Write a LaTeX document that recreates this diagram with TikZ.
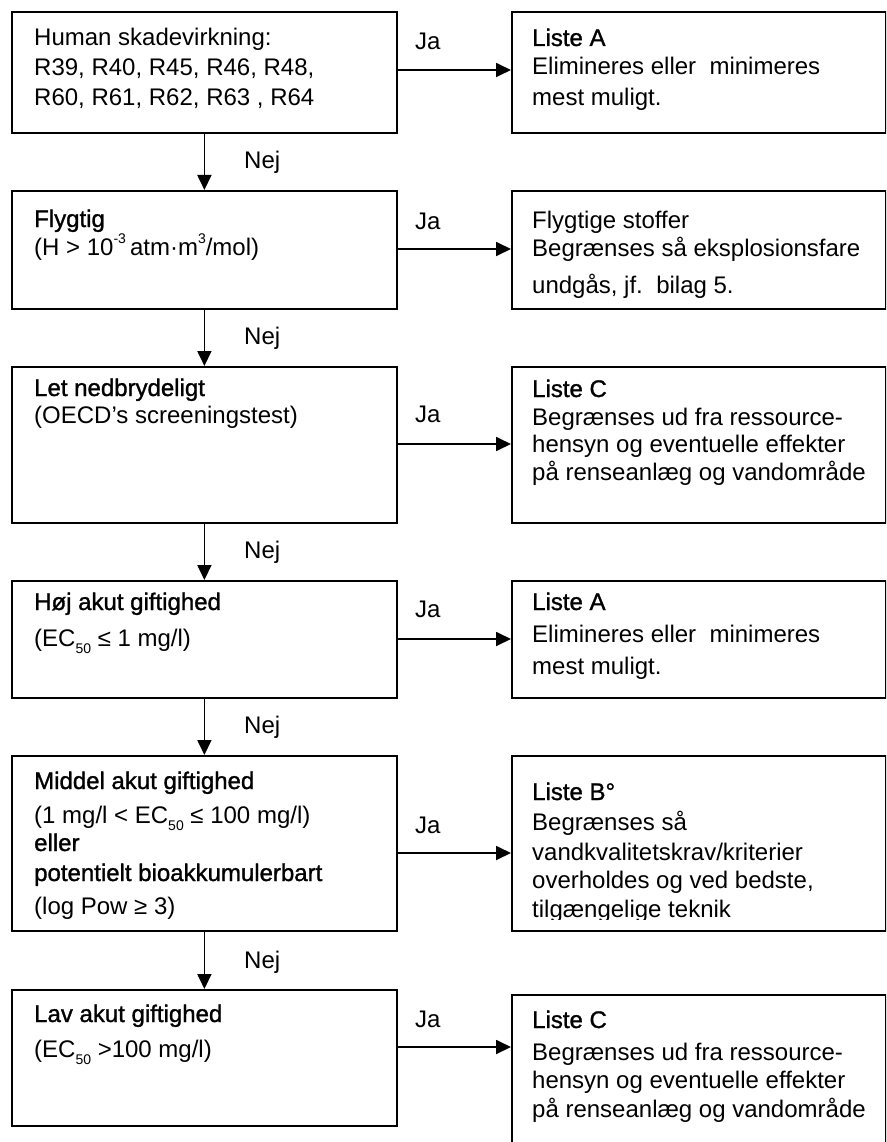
\documentclass[tikz,border=0pt]{standalone}
\usepackage{fontspec}
\setmainfont{Liberation Sans}
\newfontfamily\semib[FakeBold=1.2]{Liberation Sans}
\usetikzlibrary{arrows.meta}
\newcommand{\lowsub}[1]{\raisebox{-0.3em}{\fontsize{14}{14}\selectfont #1}}
\newcommand{\highsup}[1]{\raisebox{0.5em}{\fontsize{14}{14}\selectfont #1}}
\begin{document}
\begin{tikzpicture}[x=1pt,y=-1pt,
  box/.style={draw, line width=1.8pt, inner sep=0pt, anchor=north west},
  txt/.style={anchor=base west, inner sep=0pt, font=\fontsize{24}{28}\selectfont},
  ttl/.style={txt, font=\fontsize{24}{28}\selectfont\semib},
  arr/.style={line width=1.8pt, -{Triangle[length=15pt,width=14pt]}}
]
\useasboundingbox (0,0) rectangle (886,1142);
\clip (0,0) rectangle (886,1142);

% left boxes
\node[box, minimum width=385pt, minimum height=121pt] (L1) at (11,11) {};
\node[box, minimum width=385pt, minimum height=118pt] (L2) at (11,190) {};
\node[box, minimum width=385pt, minimum height=156pt] (L3) at (11,366) {};
\node[box, minimum width=385pt, minimum height=117pt] (L4) at (11,580) {};
\node[box, minimum width=385pt, minimum height=175pt] (L5) at (11,755) {};
\node[box, minimum width=385pt, minimum height=136pt] (L6) at (11,989) {};
% right boxes
\node[box, minimum width=374pt, minimum height=121pt] (R1) at (511,11) {};
\node[box, minimum width=374pt, minimum height=118pt] (R2) at (511,190) {};
\node[box, minimum width=374pt, minimum height=156pt] (R3) at (511,366) {};
\node[box, minimum width=374pt, minimum height=117pt] (R4) at (511,580) {};
\node[box, minimum width=374pt, minimum height=175pt] (R5) at (511,755) {};
\node[box, minimum width=374pt, minimum height=180pt] (R6) at (511,994) {};

% vertical arrows
\draw[arr] (L1.south) -- (L2.north);
\draw[arr] (L2.south) -- (L3.north);
\draw[arr] (L3.south) -- (L4.north);
\draw[arr] (L4.south) -- (L5.north);
\draw[arr] (L5.south) -- (L6.north);

% horizontal arrows
\coordinate (y1) at (0,70);
\coordinate (y2) at (0,249);
\coordinate (y3) at (0,444);
\coordinate (y4) at (0,639);
\coordinate (y5) at (0,853);
\coordinate (y6) at (0,1047);
\draw[arr] (L1.east |- y1) -- (R1.west |- y1);
\draw[arr] (L2.east |- y2) -- (R2.west |- y2);
\draw[arr] (L3.east |- y3) -- (R3.west |- y3);
\draw[arr] (L4.east |- y4) -- (R4.west |- y4);
\draw[arr] (L5.east |- y5) -- (R5.west |- y5);
\draw[arr] (L6.east |- y6) -- (R6.west |- y6);

% Ja labels
\node[txt] (ja1) at (415,50) {Ja};
\node[txt] (ja2) at (415,229) {Ja};
\node[txt] (ja3) at (415,422) {Ja};
\node[txt] (ja4) at (415,617) {Ja};
\node[txt] (ja5) at (415,833) {Ja};
\node[txt] (ja6) at (415,1027) {Ja};
% Nej labels
\node[txt] (nej1) at (244,168) {Nej};
\node[txt] (nej2) at (244,344) {Nej};
\node[txt] (nej3) at (244,558) {Nej};
\node[txt] (nej4) at (244,733) {Nej};
\node[txt] (nej5) at (244,968) {Nej};

% box 1
\node[txt] (l1a) at (34,46) {Human skadevirkning:};
\node[txt] (l1b) at (34,76) {R39, R40, R45, R46, R48,};
\node[txt] (l1c) at (34,106) {R60, R61, R62, R63 , R64};
\node[ttl] (r1a) at (532,46) {Liste A};
\node[txt] (r1b) at (532,75) {Elimineres eller\ \ minimeres};
\node[txt] (r1c) at (532,106) {mest muligt.};
% box 2
\node[ttl] (l2a) at (34,227) {Flygtig};
\node[txt] (l2b) at (34,255) {(H > 10\highsup{-3}\,atm·m\highsup{3}/mol)};
\node[txt] (r2a) at (532,228) {Flygtige stoffer};
\node[txt] (r2b) at (532,256) {Begrænses så eksplosionsfare};
\node[txt] (r2c) at (532,293) {undgås, jf.\ \ bilag 5.};
% box 3
\node[ttl] (l3a) at (34,396) {Let nedbrydeligt};
\node[txt] (l3b) at (34,423) {(OECD's screeningstest)};
\node[ttl] (r3a) at (532,397) {Liste C};
\node[txt] (r3b) at (532,425) {Begrænses ud fra ressource-};
\node[txt] (r3c) at (532,452) {hensyn og eventuelle effekter};
\node[txt] (r3d) at (532,480) {på renseanlæg og vandområde};
% box 4
\node[ttl] (l4a) at (34,610) {Høj akut giftighed};
\node[txt] (l4b) at (34,646) {(EC\lowsub{50} ≤ 1 mg/l)};
\node[ttl] (r4a) at (532,610) {Liste A};
\node[txt] (r4b) at (532,642) {Elimineres eller\ \ minimeres};
\node[txt] (r4c) at (532,674) {mest muligt.};
% box 5
\node[ttl] (l5a) at (34,789) {Middel akut giftighed};
\node[txt] (l5b) at (34,823) {(1 mg/l < EC\lowsub{50} ≤ 100 mg/l)};
\node[ttl] (l5c) at (34,851) {eller};
\node[ttl] (l5d) at (34,881) {potentielt bioakkumulerbart};
\node[txt] (l5e) at (34,914) {(log Pow ≥ 3)};
\node[ttl] (r5a) at (532,800) {Liste B°};
\node[txt] (r5b) at (532,830) {Begrænses så};
\node[txt] (r5c) at (532,860) {vandkvalitetskrav/kriterier};
\node[txt] (r5d) at (532,888) {overholdes og ved bedste,};
\begin{scope}
\clip (520,895) rectangle (880,919.5);
\node[txt] (r5e) at (532,917) {tilgængelige teknik};
\end{scope}
% box 6
\node[ttl] (l6a) at (34,1022) {Lav akut giftighed};
\node[txt] (l6b) at (34,1057) {(EC\lowsub{50} >100 mg/l)};
\node[ttl] (r6a) at (532,1028) {Liste C};
\node[txt] (r6b) at (532,1060) {Begrænses ud fra ressource-};
\node[txt] (r6c) at (532,1088) {hensyn og eventuelle effekter};
\node[txt] (r6d) at (532,1117) {på renseanlæg og vandområde};
\end{tikzpicture}
\end{document}
